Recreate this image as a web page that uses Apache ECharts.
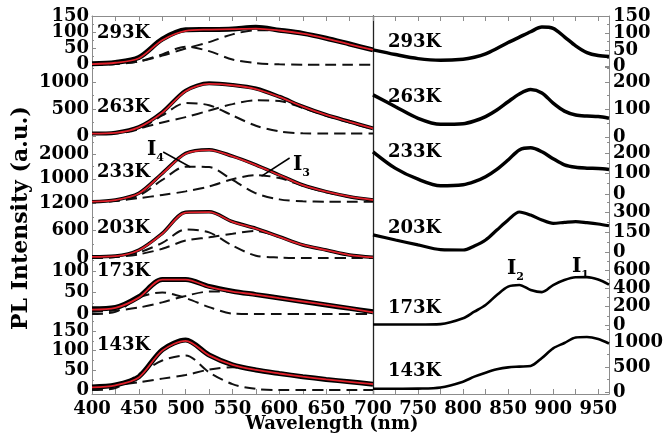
<!DOCTYPE html>
<html><head><meta charset="utf-8">
<script src="https://cdn.jsdelivr.net/npm/echarts@6/dist/echarts.min.js"></script>
<style>html,body{margin:0;padding:0;background:#fff}#c{width:670px;height:443px}</style>
</head><body><div id="c"></div>
<script>
// ---------- data ----------
const temps = ['293K','263K','233K','203K','173K','143K'];
const wlLeft = [400,425,450,475,500,525,550,575,600,625,650,675,700];
const wlRight = [700,725,750,775,800,812.5,825,837.5,850,862.5,875,887.5,900,912.5,925,937.5,950,962];

const pl293 = [3, 7, 22, 79, 108, 109, 111, 116, 107, 97, 82, 64, 46];
const fit293 = [2, 6, 20, 76, 105, 109, 110, 112, 106, 96, 81, 63, 46];
const i4_293 = [0, 2, 10, 32, 56, 42, 16, 5, 1, 0, 0, 0, 0];
const i3_293 = [0, 3, 10, 28, 50, 70, 94, 107, 105, 95, 80, 63, 46];

const pl263 = [45, 62, 165, 440, 840, 975, 945, 880, 728, 543, 390, 265, 142];
const fit263 = [45, 58, 160, 430, 830, 965, 940, 870, 725, 545, 390, 262, 140];
const i4_263 = [45, 50, 130, 380, 610, 570, 380, 190, 85, 50, 45, 45, 45];
const i3_263 = [45, 55, 140, 250, 350, 470, 590, 660, 650, 520, 375, 250, 125];

const pl233 = [55, 125, 400, 1224, 2050, 2200, 1930, 1570, 1155, 742, 467, 261, 124];
const fit233 = [55, 120, 390, 1210, 2030, 2180, 1920, 1560, 1150, 740, 465, 260, 124];
const i4_233 = [55, 80, 300, 950, 1500, 1480, 950, 400, 150, 70, 55, 55, 55];
const i3_233 = [55, 90, 200, 330, 480, 680, 980, 1150, 1030, 710, 445, 250, 124];

const pl203 = [29, 44, 175, 538, 1000, 1010, 793, 647, 466, 284, 175, 65, 15];
const fit203 = [25, 40, 170, 530, 990, 1000, 790, 640, 460, 284, 170, 65, 15];
const i4_203 = [0, 20, 120, 330, 620, 560, 270, 50, 10, 0, 0, 0, 0];
const i3_203 = [0, 20, 80, 200, 380, 450, 530, 590, 460, 284, 170, 65, 15];

const pl173 = [12, 15, 40, 80, 80, 64, 53, 45, 37, 29, 21, 13, 5];
const fit173 = [10, 14, 38, 80, 80, 63, 52, 45, 37, 29, 21, 13, 4];
const i4_173 = [0, 5, 38, 50, 37, 16, 1, 0, 0, 0, 0, 0, 0];
const i3_173 = [5, 8, 15, 27, 42, 52, 52, 45, 37, 29, 21, 13, 5];

const pl143 = [8, 13, 34, 102, 127, 89, 64, 51, 42, 34, 27, 21, 15];
const fit143 = [7, 12, 32, 100, 125, 88, 64, 51, 42, 34, 27, 21, 15];
const i4_143 = [0, 5, 40, 75, 88, 45, 15, 3, 0, 0, 0, 0, 0];
const i3_143 = [8, 12, 20, 29, 38, 52, 58, 51, 42, 34, 27, 21, 15];

const r293 = [50, 36, 24, 19, 22, 28, 38, 54, 72, 88, 104, 118, 114, 89, 62, 42, 33, 30];
const r263 = [153, 110, 68, 46, 48, 58, 74, 98, 128, 156, 172, 160, 123, 94, 80, 76, 74, 68];
const r233 = [206, 125, 72, 40, 45, 60, 84, 120, 166, 215, 225, 206, 172, 142, 130, 126, 124, 120];
const r203 = [128, 90, 53, 18, 15, 45, 90, 165, 240, 300, 277, 240, 215, 222, 228, 220, 210, 197];
const r173 = [5, 5, 5, 10, 73, 145, 218, 327, 418, 436, 382, 358, 435, 490, 520, 522, 495, 440];
const r143 = [65, 65, 68, 90, 207, 307, 387, 453, 493, 507, 520, 680, 873, 980, 1090, 1100, 1060, 970];

// y-axis ticks per panel
const leftTicks = [
  {min:-1, max:151, split:3, step:50},
  {min:0, max:1315, interval:500},
  {min:0, max:2763, interval:1000, hideZero:true},
  {min:0, max:1200, interval:600},
  {min:0, max:130, interval:50},
  {min:-10, max:193, split:4, step:50}
];
const rightTicks = [
  {min:-1, max:151, split:3, step:50},
  {min:0, max:254, interval:100},
  {min:0, max:278, interval:100},
  {min:0, max:435, interval:150},
  {min:0, max:796, interval:200},
  {min:-40, max:1340, split:3, step:500}
];

// ---------- layout / style ----------
const leftSets = [[pl293,fit293,i4_293,i3_293],[pl263,fit263,i4_263,i3_263],[pl233,fit233,i4_233,i3_233],
                  [pl203,fit203,i4_203,i3_203],[pl173,fit173,i4_173,i3_173],[pl143,fit143,i4_143,i3_143]];
const rightSets = [r293,r263,r233,r203,r173,r143];
const lTop = [16,65,136,203,258,314], lBot = [65,136,203,258,314,394];
const rTop = [16,67,137,194,252,325], rBot = [67,137,194,252,325,394];
const noiseW = [5, 4, 3.5, 3.5, 5, 5];
const rightW = [3.5, 3.5, 3.5, 3.2, 2.6, 2.6];
const LX = 92, LW = 281, RX = 373, RW = 236;
const FONT = '"DejaVu Serif", "Liberation Serif", serif';
const AX = '#8c8c8c';

const pair = (xs, ys) => xs.map((x, i) => [x, ys[i]]);

const grids = [], xAxes = [], yAxes = [], series = [];
function yAxisDef(gi, t, pos, skip) {
  const step = t.interval || t.step;
  const a = {
    gridIndex: gi, type: 'value', position: pos, min: t.min, max: t.max,
    axisLine: {show: true, lineStyle: {color: AX, width: 1}},
    axisTick: {show: true, inside: true, length: 4, lineStyle: {color: AX}},
    minorTick: {show: true, splitNumber: 2, length: 2, lineStyle: {color: AX}},
    splitLine: {show: false},
    axisLabel: {
      margin: pos === 'left' ? 3 : 4, color: '#000', fontFamily: FONT, fontWeight: 'bold', fontSize: 18,
      formatter: v => (v >= 0 && Math.abs(v % step) < 1e-6 && !(skip && v === 0)) ? String(v) : ''
    }
  };
  if (t.interval) a.interval = t.interval; else a.splitNumber = t.split;
  return a;
}
function xAxisDef(gi, min, max, showAll, hide700, pos) {
  return {
    gridIndex: gi, type: 'value', min: min, max: max, interval: 50, position: pos || 'bottom',
    show: showAll,
    axisLine: {show: true, onZero: false, lineStyle: {color: AX}},
    axisTick: {show: true, inside: true, length: 5, lineStyle: {color: AX}},
    minorTick: {show: true, splitNumber: 2, length: 5, lineStyle: {color: AX}},
    splitLine: {show: false},
    axisLabel: {
      show: pos !== 'top', margin: 6, color: '#000', fontFamily: FONT, fontWeight: 'bold', fontSize: 18,
      formatter: v => (v % 50 === 0 && !(hide700 && v === 700)) ? String(v) : ''
    }
  };
}

for (let i = 0; i < 6; i++) {
  grids.push({left: LX, top: lTop[i], width: LW, height: lBot[i] - lTop[i], outerBoundsMode: 'none'});
}
for (let i = 0; i < 6; i++) {
  grids.push({left: RX, top: rTop[i], width: RW, height: rBot[i] - rTop[i], outerBoundsMode: 'none'});
}
grids.push({left: RX, top: 16, width: RW, height: 378, outerBoundsMode: 'none'});

for (let i = 0; i < 6; i++) xAxes.push(xAxisDef(i, 400, 700, i === 5, false));
for (let i = 0; i < 6; i++) xAxes.push(xAxisDef(6 + i, 700, 962, i === 5, true));
xAxes.push(xAxisDef(0, 400, 700, true, false, 'top'));
xAxes.push(xAxisDef(6, 700, 962, true, false, 'top'));
xAxes.push({gridIndex: 12, type: 'value', min: 0, max: 1, show: false});

for (let i = 0; i < 6; i++) yAxes.push(yAxisDef(i, leftTicks[i], 'left', !!leftTicks[i].hideZero));
for (let i = 0; i < 6; i++) yAxes.push(yAxisDef(6 + i, rightTicks[i], 'right', false));
yAxes.push({gridIndex: 12, type: 'value', min: 0, max: 1, position: 'left',
  axisLine: {show: true, lineStyle: {color: '#222', width: 1.3}}, axisTick: {show: false},
  axisLabel: {show: false}, splitLine: {show: false}});

const dash = {color: '#111', width: 2, type: [11, 6]};
for (let i = 0; i < 6; i++) {
  const [d, f, c4, c3] = leftSets[i];
  const base = {type: 'line', xAxisIndex: i, yAxisIndex: i, symbol: 'none', smooth: 0.3, silent: true};
  series.push(Object.assign({}, base, {name: temps[i] + ' I4', data: pair(wlLeft, c4), lineStyle: dash}));
  series.push(Object.assign({}, base, {name: temps[i] + ' I3', data: pair(wlLeft, c3), lineStyle: dash}));
  series.push(Object.assign({}, base, {name: temps[i] + ' PL', data: pair(wlLeft, d), lineStyle: {color: '#000', width: noiseW[i]}}));
  const fitS = Object.assign({}, base, {name: temps[i] + ' fit', data: pair(wlLeft, f), lineStyle: {color: '#e0202a', width: 1.8}});
  if (i === 2) {
    fitS.markLine = {silent: true, symbol: ['none', 'none'], label: {show: false},
      lineStyle: {color: '#000', width: 1.5, type: 'solid'},
      data: [[{coord: [476, 2103]}, {coord: [505, 1485]}], [{coord: [611, 1856]}, {coord: [581, 1113]}]]};
  }
  series.push(fitS);
}
for (let i = 0; i < 6; i++) {
  series.push({type: 'line', name: temps[i] + ' R', xAxisIndex: 6 + i, yAxisIndex: 6 + i, symbol: 'none', smooth: 0.3,
    silent: true, data: pair(wlRight, rightSets[i]), lineStyle: {color: '#000', width: rightW[i]}});
}

// labels
const lLabelY = [33, 107, 172, 228, 271, 345];
const rLabelY = [42, 97, 152, 228, 308, 371];
const graphic = [];
function txt(x, y, text, size, extra) {
  return Object.assign({type: 'text', x: x, y: y, silent: true,
    style: {text: text, fill: '#000', fontFamily: FONT, fontWeight: 'bold', fontSize: size,
      align: 'left', verticalAlign: 'middle', textAlign: 'left', textVerticalAlign: 'middle'}}, extra || {});
}
for (let i = 0; i < 6; i++) {
  graphic.push(txt(97, lLabelY[i], temps[i], 18));
  graphic.push(txt(388, rLabelY[i], temps[i], 18));
}
function sub(x, y, s) {
  return {type: 'text', x: x, y: y, silent: true, style: {
    text: '{a|I}{b|' + s + '}', fill: '#000', align: 'left', verticalAlign: 'top',
    rich: {a: {fontFamily: FONT, fontWeight: 'bold', fontSize: 20, lineHeight: 20, verticalAlign: 'bottom'},
           b: {fontFamily: FONT, fontWeight: 'bold', fontSize: 11, lineHeight: 20, verticalAlign: 'bottom', padding: [0, 0, -4, 0]}}}};
}
graphic.push(sub(147, 140, '4'));
graphic.push(sub(293, 155, '3'));
graphic.push(sub(507, 259, '2'));
graphic.push(sub(572, 257, '1'));
graphic.push({type: 'text', x: 21, y: 218, rotation: Math.PI / 2, silent: true,
  style: {text: 'PL Intensity (a.u.)', fill: '#000', fontFamily: FONT, fontWeight: 'bold', fontSize: 22,
    align: 'center', verticalAlign: 'middle', textAlign: 'center', textVerticalAlign: 'middle'}});
graphic.push({type: 'text', x: 332, y: 424, silent: true,
  style: {text: 'Wavelength (nm)', fill: '#000', fontFamily: FONT, fontWeight: 'bold', fontSize: 18,
    align: 'center', verticalAlign: 'middle', textAlign: 'center', textVerticalAlign: 'middle'}});

const chart = echarts.init(document.getElementById('c'), null, {renderer: 'canvas'});
chart.setOption({animation: false, backgroundColor: '#fff', grid: grids, xAxis: xAxes, yAxis: yAxes, series: series, graphic: graphic});
</script>
</body></html>
